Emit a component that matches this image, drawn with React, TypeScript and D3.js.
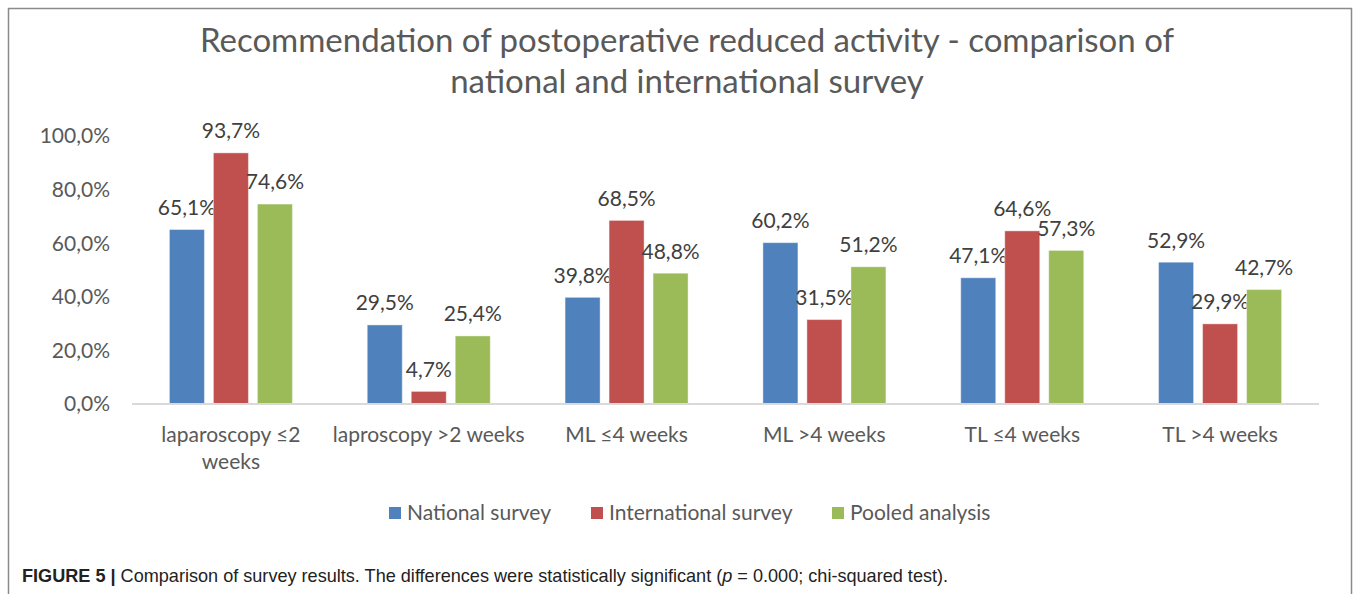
import React from "react";
import * as d3 from "d3";

const categories = [
  "laparoscopy ≤2\nweeks",
  "laproscopy >2 weeks",
  "ML ≤4 weeks",
  "ML >4 weeks",
  "TL ≤4 weeks",
  "TL >4 weeks",
];
const seriesNames = ["National survey", "International survey", "Pooled analysis"];
const national = [65.1, 29.5, 39.8, 60.2, 47.1, 52.9];
const international = [93.7, 4.7, 68.5, 31.5, 64.6, 29.9];
const pooled = [74.6, 25.4, 48.8, 51.2, 57.3, 42.7];
const yTicks = [0, 20, 40, 60, 80, 100];
const colors = ["#4F81BD", "#C0504D", "#9BBB59"];
const titleLines = [
  "Recommendation of postoperative reduced activity - comparison of",
  "national and international survey",
];

const W = 1358;
const H = 594;
const FONT = "Lato, 'Open Sans', sans-serif";
const LS = 21;

const fmt = (v: number) => v.toFixed(1).replace(".", ",") + "%";

export default function App() {
  const seriesValues = [national, international, pooled];
  const x0 = d3.scaleBand<string>().domain(categories).range([132, 1319]);
  const y = d3.scaleLinear().domain([0, 100]).range([404, 136]);
  const groupW = 123;
  const x1 = d3
    .scaleBand<string>()
    .domain(seriesNames)
    .range([-groupW / 2, groupW / 2])
    .paddingInner(9 / 44);

  const legendX = [389, 591, 832];

  return (
    <svg
      width={W}
      height={H}
      style={{ position: "absolute", left: 0, top: 0, background: "#fff" }}
    >
      <rect x={0} y={0} width={W} height={H} fill="#fff" />
      {/* frame */}
      <path d={`M8.5,${H} V8.5 H1351.5 V${H}`} fill="none" stroke="#8a8a8a" strokeWidth={1.5} />

      {/* title */}
      {titleLines.map((t, i) => (
        <text
          key={i}
          x={687}
          y={52 + i * 41}
          textAnchor="middle"
          fontFamily={FONT}
          fontSize={33}
          fill="#595959"
        >
          {t}
        </text>
      ))}

      {/* y axis labels */}
      {yTicks.map((t) => (
        <text
          key={t}
          x={110}
          y={y(t)}
          dy="0.35em"
          textAnchor="end"
          fontFamily={FONT}
          fontSize={LS}
          fill="#595959"
        >
          {fmt(t)}
        </text>
      ))}

      {/* bars */}
      {categories.map((c, ci) => (
        <g key={c} transform={`translate(${x0(c)! + x0.bandwidth() / 2},0)`}>
          {seriesNames.map((s, si) => {
            const v = seriesValues[si][ci];
            const bx = x1(s)!;
            return (
              <g key={s}>
                <rect
                  x={bx}
                  y={y(v)}
                  width={x1.bandwidth()}
                  height={y(0) - y(v)}
                  fill={colors[si]}
                  stroke="#ffffff"
                  strokeOpacity={0.4}
                  strokeWidth={1}
                />
                <text
                  x={bx + x1.bandwidth() / 2}
                  y={y(v) - 22}
                  dy="0.35em"
                  textAnchor="middle"
                  fontFamily={FONT}
                  fontSize={LS}
                  fill="#404040"
                >
                  {fmt(v)}
                </text>
              </g>
            );
          })}
        </g>
      ))}

      {/* baseline */}
      <line x1={132} x2={1319} y1={404} y2={404} stroke="#d9d9d9" strokeWidth={2} />

      {/* category labels */}
      {categories.map((c) => (
        <text
          key={c}
          x={x0(c)! + x0.bandwidth() / 2}
          y={435}
          textAnchor="middle"
          fontFamily={FONT}
          fontSize={LS}
          fill="#595959"
        >
          {c.split("\n").map((line, li) => (
            <tspan key={li} x={x0(c)! + x0.bandwidth() / 2} dy={li === 0 ? "0.35em" : 27}>
              {line}
            </tspan>
          ))}
        </text>
      ))}

      {/* legend */}
      {seriesNames.map((s, i) => (
        <g key={s} transform={`translate(${legendX[i]},513)`}>
          <rect x={0} y={-6} width={12} height={12} fill={colors[i]} />
          <text x={18} y={0} dy="0.35em" fontFamily={FONT} fontSize={LS} fill="#595959">
            {s}
          </text>
        </g>
      ))}

      {/* caption */}
      <text x={22} y={582} fontFamily="'Liberation Sans', Arial, sans-serif" fontSize={18.1} fill="#222">
        <tspan fontWeight="bold">FIGURE 5 | </tspan>
        <tspan>Comparison of survey results. The differences were statistically significant (</tspan>
        <tspan fontStyle="italic">p</tspan>
        <tspan> = 0.000; chi-squared test).</tspan>
      </text>
    </svg>
  );
}
